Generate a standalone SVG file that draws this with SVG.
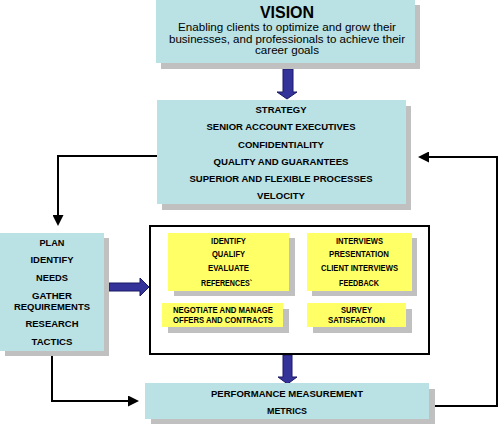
<svg xmlns="http://www.w3.org/2000/svg" width="500" height="425" viewBox="0 0 500 425">
<style>
.teal{fill:#BAE1E4}
.sh{fill:#C0C0C0}
.yel{fill:#FFFF66}
.t{font-family:"Liberation Sans",Arial,sans-serif;font-weight:bold;fill:#000;text-anchor:middle}
.s10{font-size:9.5px}
.s8{font-size:8.3px}
.n{font-family:"Liberation Sans",Arial,sans-serif;font-size:11px;fill:#000;text-anchor:middle}
.bl{fill:#333399;stroke:#1A1A66;stroke-width:1}
.ln{fill:none;stroke:#000;stroke-width:2}
</style>
<defs>
<marker id="ah" markerWidth="11" markerHeight="11" refX="9" refY="5.5" orient="auto" markerUnits="userSpaceOnUse">
<path d="M0,0 L11,5.5 L0,11 Z" fill="#000"/>
</marker>
</defs>
<rect width="500" height="425" fill="#fff"/>
<g id="connectors">
<polyline class="ln" points="157,156 58,156 58,224" marker-end="url(#ah)"/>
<polyline class="ln" points="52,356 52,401 137,401" marker-end="url(#ah)"/>
<polyline class="ln" points="435,406 497,406 497,157 420,157" marker-end="url(#ah)"/>
<path class="bl" d="M283,69 H293 V92 H297 L287,99 L277,92 H283 Z"/>
<path class="bl" d="M109,283 H140 V278 L149,287 L140,296 V291 H109 Z"/>
<path class="bl" d="M283,355 H292 V377 H297 L287.5,384 L278,377 H283 Z"/>
</g>
<g id="vision">
<rect class="sh" x="161" y="5" width="259" height="64"/>
<rect class="teal" x="156" y="0" width="259" height="63"/>
<text class="t" x="287" y="18" font-size="16">VISION</text>
<text class="n" x="287" y="31" textLength="218" lengthAdjust="spacingAndGlyphs">Enabling clients to optimize and grow their</text>
<text class="n" x="287" y="42.5" textLength="236" lengthAdjust="spacingAndGlyphs">businesses, and professionals to achieve their</text>
<text class="n" x="287" y="54" textLength="64" lengthAdjust="spacingAndGlyphs">career goals</text>
</g>
<g id="strategy">
<rect class="sh" x="162" y="106" width="249" height="104"/>
<rect class="teal" x="157" y="100" width="249" height="104"/>
<text class="t s10" x="281" y="112.5" textLength="51" lengthAdjust="spacingAndGlyphs">STRATEGY</text>
<text class="t s10" x="281" y="130" textLength="149" lengthAdjust="spacingAndGlyphs">SENIOR ACCOUNT EXECUTIVES</text>
<text class="t s10" x="281" y="147.5" textLength="86" lengthAdjust="spacingAndGlyphs">CONFIDENTIALITY</text>
<text class="t s10" x="281" y="164.5" textLength="135" lengthAdjust="spacingAndGlyphs">QUALITY AND GUARANTEES</text>
<text class="t s10" x="281" y="181.5" textLength="183" lengthAdjust="spacingAndGlyphs">SUPERIOR AND FLEXIBLE PROCESSES</text>
<text class="t s10" x="281" y="198.5" textLength="48" lengthAdjust="spacingAndGlyphs">VELOCITY</text>
</g>
<g id="plan">
<rect class="sh" x="5" y="238" width="104" height="118"/>
<rect class="teal" x="0" y="233" width="104" height="118"/>
<text class="t s10" x="52" y="245.5" textLength="25" lengthAdjust="spacingAndGlyphs">PLAN</text>
<text class="t s10" x="52" y="262.5" textLength="43" lengthAdjust="spacingAndGlyphs">IDENTIFY</text>
<text class="t s10" x="52" y="280.5" textLength="32" lengthAdjust="spacingAndGlyphs">NEEDS</text>
<text class="t s10" x="52" y="298.5" textLength="40" lengthAdjust="spacingAndGlyphs">GATHER</text>
<text class="t s10" x="52" y="309.5" textLength="76" lengthAdjust="spacingAndGlyphs">REQUIREMENTS</text>
<text class="t s10" x="52" y="326.5" textLength="53" lengthAdjust="spacingAndGlyphs">RESEARCH</text>
<text class="t s10" x="52" y="344.5" textLength="41" lengthAdjust="spacingAndGlyphs">TACTICS</text>
</g>
<g id="process">
<rect x="150" y="226" width="279" height="128" fill="#fff" stroke="#000" stroke-width="2"/>
</g>
<g id="identify">
<rect class="sh" x="174" y="238" width="121" height="58"/>
<rect class="yel" x="168" y="233" width="121" height="58"/>
<text class="t s8" x="228.5" y="244" textLength="35" lengthAdjust="spacingAndGlyphs">IDENTIFY</text>
<text class="t s8" x="228.5" y="257" textLength="33" lengthAdjust="spacingAndGlyphs">QUALIFY</text>
<text class="t s8" x="228.5" y="271" textLength="41" lengthAdjust="spacingAndGlyphs">EVALUATE</text>
<text class="t s8" x="226.5" y="286" textLength="51" lengthAdjust="spacingAndGlyphs">REFERENCES`</text>
</g>
<g id="interviews">
<rect class="sh" x="312" y="238" width="105" height="58"/>
<rect class="yel" x="307" y="233" width="105" height="58"/>
<text class="t s8" x="359.5" y="244" textLength="47" lengthAdjust="spacingAndGlyphs">INTERVIEWS</text>
<text class="t s8" x="359" y="257" textLength="60" lengthAdjust="spacingAndGlyphs">PRESENTATION</text>
<text class="t s8" x="359.5" y="271" textLength="77" lengthAdjust="spacingAndGlyphs">CLIENT INTERVIEWS</text>
<text class="t s8" x="359" y="286" textLength="40" lengthAdjust="spacingAndGlyphs">FEEDBACK</text>
</g>
<g id="negotiate">
<rect class="sh" x="168" y="309" width="121" height="24"/>
<rect class="yel" x="162" y="303" width="121" height="24"/>
<text class="t s8" x="223" y="313" textLength="100" lengthAdjust="spacingAndGlyphs">NEGOTIATE AND MANAGE</text>
<text class="t s8" x="223" y="322.5" textLength="100" lengthAdjust="spacingAndGlyphs">OFFERS AND CONTRACTS</text>
</g>
<g id="survey">
<rect class="sh" x="313" y="309" width="99" height="24"/>
<rect class="yel" x="307" y="303" width="99" height="24"/>
<text class="t s8" x="356.5" y="313" textLength="31" lengthAdjust="spacingAndGlyphs">SURVEY</text>
<text class="t s8" x="356.5" y="322.5" textLength="57" lengthAdjust="spacingAndGlyphs">SATISFACTION</text>
</g>
<g id="performance">
<rect class="sh" x="151" y="389" width="284" height="35"/>
<rect class="teal" x="145" y="383" width="284" height="36"/>
<text class="t s10" x="287" y="396.5" textLength="152" lengthAdjust="spacingAndGlyphs">PERFORMANCE MEASUREMENT</text>
<text class="t s10" x="287" y="413.5" textLength="40" lengthAdjust="spacingAndGlyphs">METRICS</text>
</g>
</svg>
